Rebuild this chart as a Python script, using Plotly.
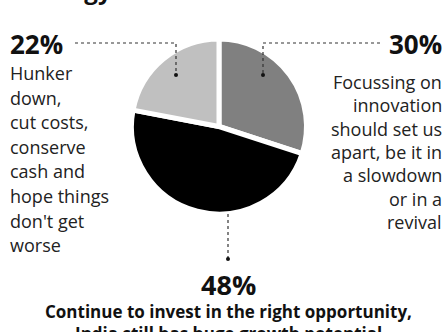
import plotly.graph_objects as go

W, H = 447, 332

# Survey shares, clockwise from 12 o'clock
labels = ["Focussing on innovation", "Continue to invest", "Hunker down"]
values = [30, 48, 22]
colors = ["#808080", "#000000", "#c0c0c0"]

pct_labels = ["30%", "48%", "22%"]
left_lines = ["Hunker", "down,", "cut costs,", "conserve", "cash and",
              "hope things", "don't get", "worse"]
right_lines = ["Focussing on", "innovation", "should set us",
               "apart, be it in", "a slowdown", "or in a", "revival"]
bottom_lines = ["Continue to invest in the right opportunity,",
                "India still has huge growth potential"]
title_text = "strategy?"

FONT = "Open Sans"


def px(x):
    return x / W


def py(y):
    return 1 - y / H


fig = go.Figure()
fig.add_trace(go.Pie(
    labels=labels, values=values, sort=False, direction="clockwise",
    rotation=0, textinfo="none", hoverinfo="label+percent",
    marker=dict(colors=colors, line=dict(color="white", width=5)),
    domain=dict(x=[px(131), px(307)], y=[py(214), py(39)]),
    showlegend=False,
))

ann = []
# cut-off heading
ann.append(dict(x=px(10), y=py(8), text="<b>%s</b>" % title_text, xanchor="left",
                yanchor="bottom", font=dict(size=24, color="#111")))
# percentage figures
ann.append(dict(x=px(8), y=py(44), text="<b>%s</b>" % pct_labels[2], xanchor="left",
                yanchor="middle", font=dict(size=26, color="#111")))
ann.append(dict(x=px(444), y=py(44), text="<b>%s</b>" % pct_labels[0], xanchor="right",
                yanchor="middle", font=dict(size=26, color="#111")))
ann.append(dict(x=px(229), y=py(284), text="<b>%s</b>" % pct_labels[1], xanchor="center",
                yanchor="middle", font=dict(size=27, color="#111")))
# left description
for i, t in enumerate(left_lines):
    ann.append(dict(x=px(8), y=py(73 + i * 24.6), text=t, xanchor="left",
                    yanchor="middle", font=dict(size=18, color="#222")))
# right description
for i, t in enumerate(right_lines):
    ann.append(dict(x=px(444), y=py(82 + i * 23.3), text=t, xanchor="right",
                    yanchor="middle", font=dict(size=18, color="#222")))
# bottom description
for i, t in enumerate(bottom_lines):
    ann.append(dict(x=px(229), y=py(311 + i * 22), text="<b>%s</b>" % t, xanchor="center",
                    yanchor="middle", font=dict(size=17, color="#111")))
for a in ann:
    a.update(xref="paper", yref="paper", showarrow=False)

# dotted leader lines with end dots
dot = dict(color="#333", width=1.2, dash="dot")
shapes = [
    dict(type="path", path="M %f %f L %f %f L %f %f" % (px(75), py(43), px(176), py(43), px(176), py(75)), line=dot),
    dict(type="path", path="M %f %f L %f %f L %f %f" % (px(380), py(43), px(263), py(43), px(263), py(75)), line=dot),
    dict(type="line", x0=px(228), y0=py(214), x1=px(228), y1=py(259), line=dot),
]
for cx, cy in [(176, 75), (263, 75), (228, 259)]:
    shapes.append(dict(type="circle", x0=px(cx - 2), x1=px(cx + 2), y0=py(cy - 2), y1=py(cy + 2),
                       fillcolor="#111", line=dict(width=0)))
for s in shapes:
    s.update(xref="paper", yref="paper")

fig.update_layout(
    width=W, height=H, margin=dict(l=0, r=0, t=0, b=0),
    paper_bgcolor="white", plot_bgcolor="white",
    font=dict(family=FONT), annotations=ann, shapes=shapes,
)
fig.write_html("out.html")
